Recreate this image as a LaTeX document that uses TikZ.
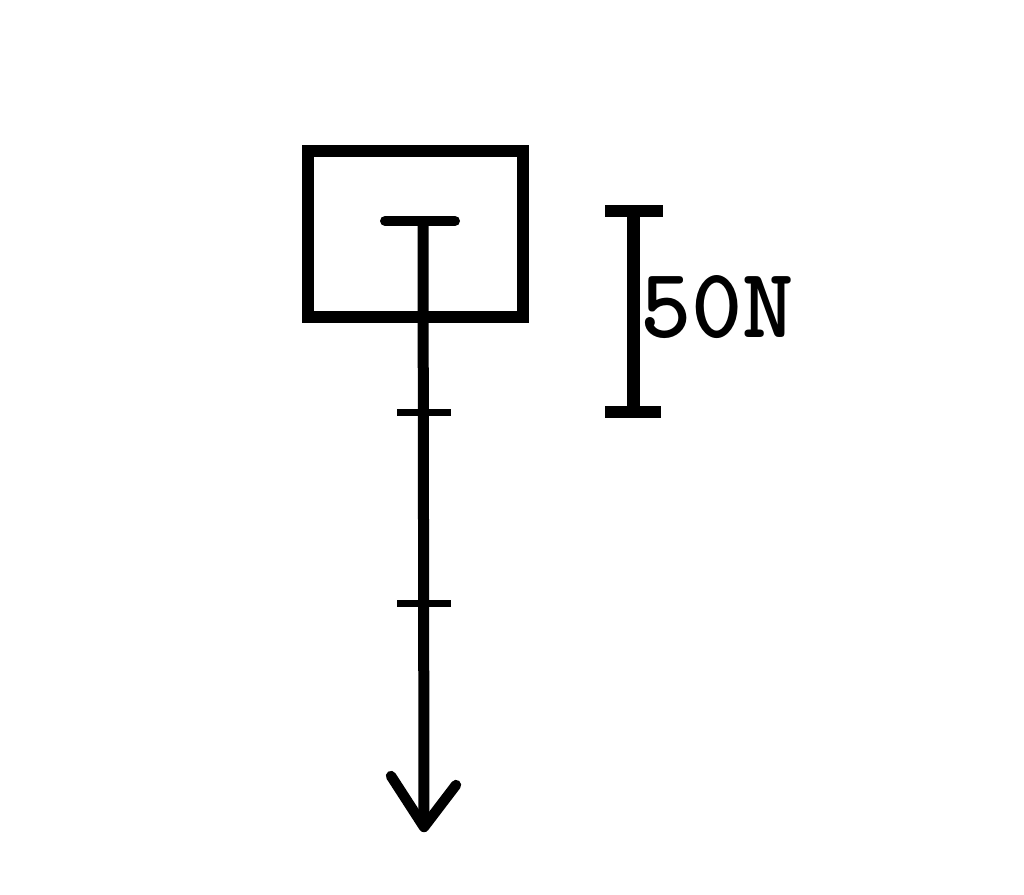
\documentclass[tikz,border=0pt]{standalone}
\usepackage{fontspec}
\begin{document}
\begin{tikzpicture}[x=0.25mm,y=-0.25mm,
  boxstyle/.style={draw=black,line width=3mm,inner sep=0pt,minimum width=53.875mm,minimum height=41.625mm},
  forceline/.style={line width=2.75mm},
  topcap/.style={line width=2.5mm,line cap=round},
  tickmark/.style={line width=1.75mm},
  headline/.style={line width=2.6mm,line cap=round,line join=round},
  scalebar/.style={line width=3.25mm},
  scalecap/.style={line width=3mm}]
\useasboundingbox (0,0) rectangle (1024,894);
\node[boxstyle] (box) at (415.25,233.75) {};
% force vector
\coordinate (vtop) at (423,221);
\coordinate (vtip) at (424,827);
\coordinate (capL) at (385,221);
\coordinate (capR) at (455,221);
\draw[topcap] (capL) -- (capR);
\draw[forceline] (vtop) -- (vtip);
\coordinate (t1L) at (397,412); \coordinate (t1R) at (451,412);
\coordinate (t2L) at (397,603); \coordinate (t2R) at (451,603);
\draw[tickmark] (t1L) -- (t1R);
\draw[tickmark] (t2L) -- (t2R);
\coordinate (aL) at (391,776);
\coordinate (aR) at (456,785);
\draw[headline] (aL) -- (vtip) -- (aR);
% scale bar
\coordinate (sTop) at (633,211);
\coordinate (sBot) at (633,412);
\coordinate (sTL) at (605,211); \coordinate (sTR) at (663,211);
\coordinate (sBL) at (605,412); \coordinate (sBR) at (661,412);
\draw[scalebar] (sTop) -- (sBot);
\draw[scalecap] (sTL) -- (sTR);
\draw[scalecap] (sBL) -- (sBR);
\node[anchor=south west,inner sep=0pt] (lbl) at (640,339) {\resizebox{38.5mm}{15.5mm}{\ttfamily\bfseries 50N}};
\end{tikzpicture}
\end{document}
